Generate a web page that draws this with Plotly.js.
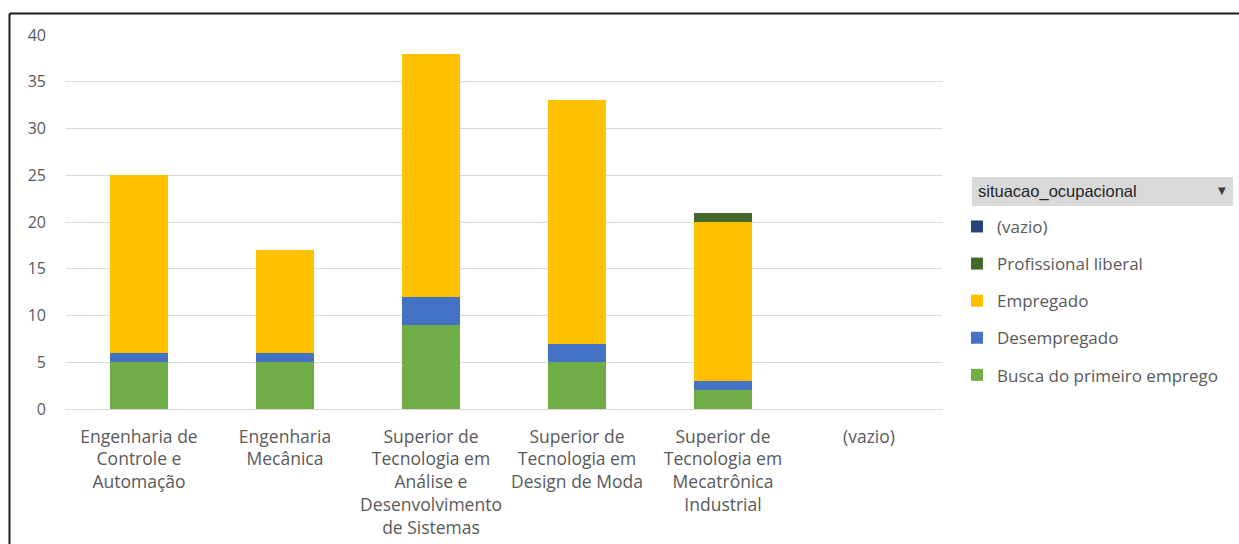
<!DOCTYPE html>
<html>
<head>
<meta charset="utf-8">
<script src="https://cdn.plot.ly/plotly-3.0.1.min.js"></script>
<style>
html,body{margin:0;padding:0;background:#fff;}
#chart{width:1239px;height:544px;}
</style>
</head>
<body>
<div id="chart"></div>
<script>
const categories = [
  "Engenharia de<br>Controle e<br>Automação",
  "Engenharia<br>Mecânica",
  "Superior de<br>Tecnologia em<br>Análise e<br>Desenvolvimento<br>de Sistemas",
  "Superior de<br>Tecnologia em<br>Design de Moda",
  "Superior de<br>Tecnologia em<br>Mecatrônica<br>Industrial",
  "(vazio)"
];
const buscaPrimeiroEmprego = [5, 5, 9, 5, 2, null];
const desempregado = [1, 1, 3, 2, 1, null];
const empregado = [19, 11, 26, 26, 17, null];
const profissionalLiberal = [0, 0, 0, 0, 1, null];
const vazio = [0, 0, 0, 0, 0, null];
const yTicks = [0, 5, 10, 15, 20, 25, 30, 35, 40];

const seriesNames = ["Busca do primeiro emprego", "Desempregado", "Empregado", "Profissional liberal", "(vazio)"];
const seriesValues = [buscaPrimeiroEmprego, desempregado, empregado, profissionalLiberal, vazio];
const seriesColors = ["#70AD47", "#4472C4", "#FFC000", "#43682B", "#264478"];

const xIdx = categories.map((c, i) => i);

const traces = seriesNames.map((name, k) => ({
  type: "bar",
  name: name,
  x: xIdx,
  y: seriesValues[k],
  marker: {color: seriesColors[k], line: {width: 0}},
  legendgroup: "g" + k,
  legendrank: 1000 + (seriesNames.length - k),
  hoverinfo: "name+y"
}));

const font = "'Open Sans', 'Noto Sans', sans-serif";

const layout = {
  width: 1239,
  height: 544,
  margin: {l: 66, r: 297, t: 35, b: 135},
  paper_bgcolor: "#fff",
  plot_bgcolor: "#fff",
  barmode: "stack",
  bargap: 0.6,
  font: {family: font, color: "#595959", size: 17},
  xaxis: {
    tickmode: "array",
    tickvals: xIdx,
    ticktext: categories,
    range: [-0.5, 5.5],
    showgrid: false,
    showline: false,
    zeroline: false,
    ticks: "",
    ticklabelstandoff: 15,
    tickfont: {family: font, size: 17.5, color: "#595959"},
    fixedrange: true
  },
  yaxis: {
    range: [0, 40],
    tickmode: "array",
    tickvals: yTicks,
    ticktext: yTicks.map(String),
    showgrid: true,
    gridcolor: "#d9d9d9",
    gridwidth: 1,
    zeroline: true,
    zerolinecolor: "#d9d9d9",
    zerolinewidth: 1,
    showline: false,
    ticks: "",
    ticklabelstandoff: 19,
    tickfont: {family: font, size: 16, color: "#595959"},
    fixedrange: true
  },
  legend: {
    x: 1.0171,
    xanchor: "left",
    y: 0.535,
    yanchor: "top",
    traceorder: "grouped",
    tracegroupgap: 12,
    font: {family: font, size: 17, color: "#595959"},
    bgcolor: "rgba(0,0,0,0)",
    itemclick: false,
    itemdoubleclick: false
  },
  shapes: [
    {type: "line", xref: "paper", yref: "paper", x0: -0.0645, x1: 1.345, y0: 1.0575, y1: 1.0575, line: {color: "#1a1a1a", width: 2}},
    {type: "line", xref: "paper", yref: "paper", x0: -0.0645, x1: -0.0645, y0: 1.0575, y1: -0.37, line: {color: "#1a1a1a", width: 2}},
    {type: "rect", xref: "paper", yref: "paper", x0: (972-66)/876, x1: (1233-66)/876, y0: (409-206)/374, y1: (409-177)/374, fillcolor: "#d9d9d9", line: {width: 0}, layer: "below"}
  ],
  annotations: [
    {xref: "paper", yref: "paper", x: (976-66)/876, y: (409-191)/374, xanchor: "left", yanchor: "middle", text: "situacao_ocupacional", showarrow: false, font: {family: "'Liberation Sans', Arial, sans-serif", size: 16.5, color: "#262626"}},
    {xref: "paper", yref: "paper", x: (1222-66)/876, y: (409-190)/374, xanchor: "center", yanchor: "middle", text: "▼", showarrow: false, font: {family: "'DejaVu Sans', sans-serif", size: 10, color: "#404040"}}
  ],
  showlegend: true
};

Plotly.newPlot("chart", traces, layout, {displayModeBar: false});
</script>
</body>
</html>
